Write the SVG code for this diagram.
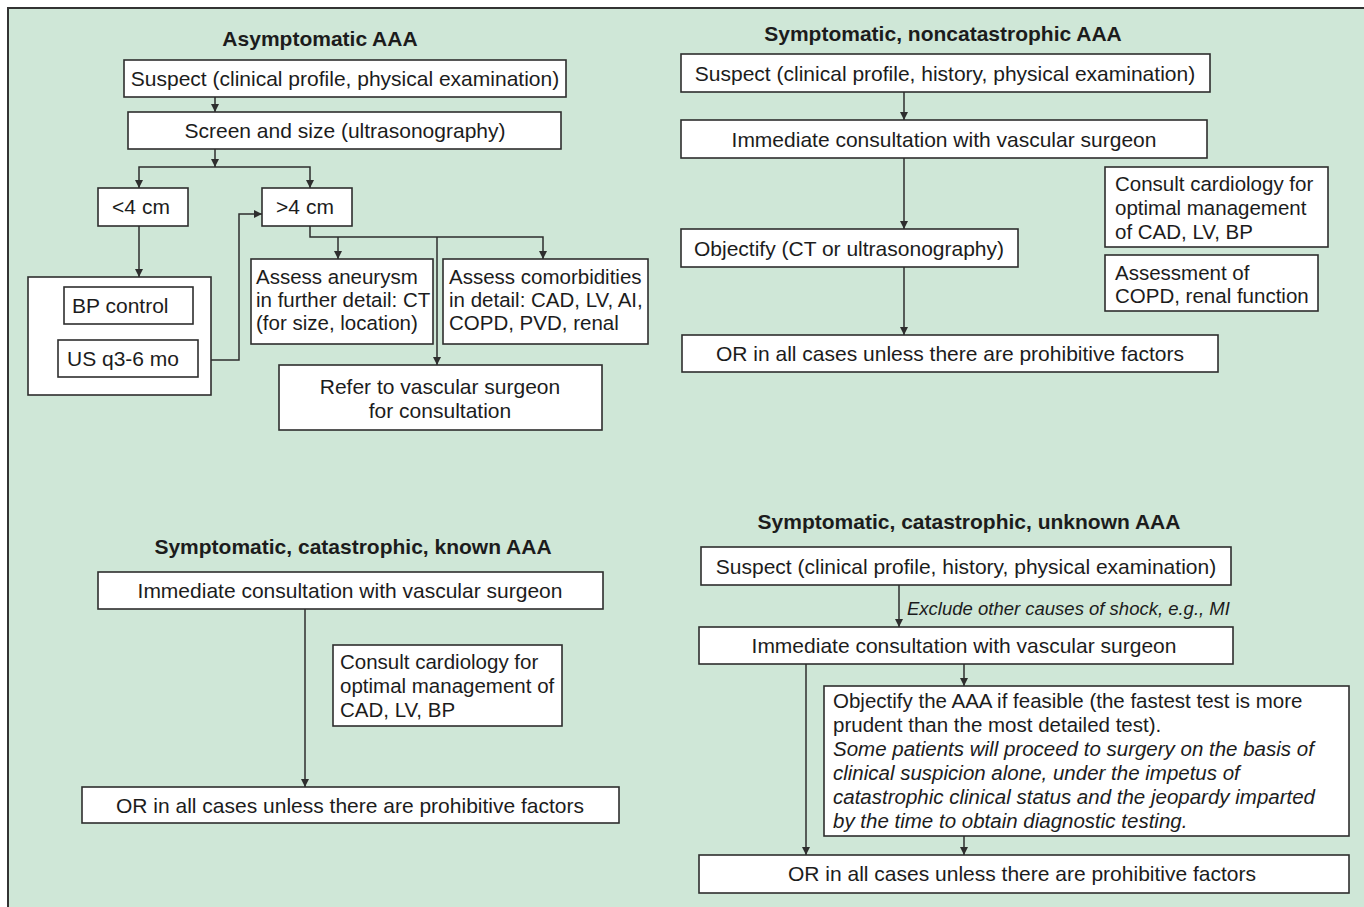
<svg xmlns="http://www.w3.org/2000/svg" width="1364" height="907" viewBox="0 0 1364 907">
  <defs>
    <marker id="ah" markerUnits="userSpaceOnUse" markerWidth="8" markerHeight="8" refX="8" refY="4" orient="auto">
      <path d="M0,0 L8,4 L0,8 Z" fill="#2e2e2e"/>
    </marker>
    <style>
      .box { fill: #ffffff; stroke: #2e2e2e; stroke-width: 1.6; }
      .t { font-family: "Liberation Sans", Arial, sans-serif; font-size: 21px; fill: #1c1c1c; }
      .c { text-anchor: middle; }
      .m { font-size: 20.5px; }
      .h { font-weight: bold; }
      .i { font-style: italic; }
      .conn path { fill: none; stroke: #2e2e2e; stroke-width: 1.5; }
      .conn .a { marker-end: url(#ah); }
    </style>
  </defs>

  <!-- page background and frame -->
  <rect x="0" y="0" width="1364" height="907" fill="#ffffff"/>
  <rect x="8" y="8" width="1356" height="899" fill="#cfe7d7"/>
  <path d="M8,907 V8 H1364" fill="none" stroke="#333333" stroke-width="2"/>

  <!-- section titles -->
  <g id="titles">
    <text class="t h c" x="320" y="46">Asymptomatic AAA</text>
    <text class="t h c" x="943" y="41">Symptomatic, noncatastrophic AAA</text>
    <text class="t h c" x="353" y="554">Symptomatic, catastrophic, known AAA</text>
    <text class="t h c" x="969" y="529">Symptomatic, catastrophic, unknown AAA</text>
  </g>

  <!-- connectors -->
  <g id="connectors" class="conn">
    <!-- asymptomatic -->
    <path class="a" d="M215,97 V112"/>
    <path class="a" d="M215,149 V167"/>
    <path class="a" d="M215,167 H139 V188"/>
    <path class="a" d="M215,167 H310 V188"/>
    <path class="a" d="M139,226 V277"/>
    <path class="a" d="M198,360 H239 V214 H262"/>
    <path class="a" d="M310,226 V237 H543 V259"/>
    <path class="a" d="M338,237 V259"/>
    <path class="a" d="M437,237 V365"/>
    <!-- symptomatic, noncatastrophic -->
    <path class="a" d="M904,92 V120"/>
    <path class="a" d="M904,158 V229"/>
    <path class="a" d="M904,267 V335"/>
    <!-- symptomatic, catastrophic, known -->
    <path class="a" d="M305,609 V787"/>
    <!-- symptomatic, catastrophic, unknown -->
    <path class="a" d="M899,585 V627"/>
    <path class="a" d="M806,664 V855"/>
    <path class="a" d="M964,664 V686"/>
    <path class="a" d="M964,836 V855"/>
  </g>
  <text class="t i" style="font-size:18.5px" x="907" y="615">Exclude other causes of shock, e.g., MI</text>

  <!-- asymptomatic AAA -->
  <g id="a-suspect">
    <rect class="box" x="124" y="60" width="442" height="37"/>
    <text class="t c" x="345" y="86">Suspect (clinical profile, physical examination)</text>
  </g>
  <g id="a-screen">
    <rect class="box" x="128" y="112" width="433" height="37"/>
    <text class="t c" x="345" y="138">Screen and size (ultrasonography)</text>
  </g>
  <g id="a-small">
    <rect class="box" x="98" y="188" width="90" height="38"/>
    <text class="t c" x="141" y="214">&lt;4 cm</text>
  </g>
  <g id="a-large">
    <rect class="box" x="262" y="188" width="90" height="38"/>
    <text class="t c" x="305" y="214">&gt;4 cm</text>
  </g>
  <g id="a-followup">
    <rect class="box" x="28" y="277" width="183" height="118"/>
  </g>
  <g id="a-bp">
    <rect class="box" x="64" y="287" width="129" height="37"/>
    <text class="t" x="72" y="313">BP control</text>
  </g>
  <g id="a-us">
    <rect class="box" x="58" y="340" width="140" height="37"/>
    <text class="t" x="67" y="366">US q3-6 mo</text>
  </g>
  <g id="a-aneurysm">
    <rect class="box" x="251" y="259" width="182" height="85"/>
    <text class="t m" x="256" y="284">Assess aneurysm</text>
    <text class="t m" x="256" y="307">in further detail: CT</text>
    <text class="t m" x="256" y="330">(for size, location)</text>
  </g>
  <g id="a-comorbid">
    <rect class="box" x="443" y="259" width="205" height="85"/>
    <text class="t m" x="449" y="284">Assess comorbidities</text>
    <text class="t m" x="449" y="307">in detail: CAD, LV, AI,</text>
    <text class="t m" x="449" y="330">COPD, PVD, renal</text>
  </g>
  <g id="a-refer">
    <rect class="box" x="279" y="365" width="323" height="65"/>
    <text class="t c" x="440" y="394">Refer to vascular surgeon</text>
    <text class="t c" x="440" y="418">for consultation</text>
  </g>

  <!-- symptomatic, noncatastrophic AAA -->
  <g id="n-suspect">
    <rect class="box" x="681" y="54" width="529" height="38"/>
    <text class="t c" x="945" y="81">Suspect (clinical profile, history, physical examination)</text>
  </g>
  <g id="n-consult">
    <rect class="box" x="681" y="120" width="526" height="38"/>
    <text class="t c" x="944" y="147">Immediate consultation with vascular surgeon</text>
  </g>
  <g id="n-objectify">
    <rect class="box" x="681" y="229" width="337" height="38"/>
    <text class="t c" x="849" y="256">Objectify (CT or ultrasonography)</text>
  </g>
  <g id="n-or">
    <rect class="box" x="682" y="335" width="536" height="37"/>
    <text class="t c" x="950" y="361">OR in all cases unless there are prohibitive factors</text>
  </g>
  <g id="n-cardio">
    <rect class="box" x="1105" y="167" width="223" height="80"/>
    <text class="t m" x="1115" y="191">Consult cardiology for</text>
    <text class="t m" x="1115" y="215">optimal management</text>
    <text class="t m" x="1115" y="239">of CAD, LV, BP</text>
  </g>
  <g id="n-copd">
    <rect class="box" x="1105" y="255" width="213" height="56"/>
    <text class="t m" x="1115" y="280">Assessment of</text>
    <text class="t m" x="1115" y="303">COPD, renal function</text>
  </g>

  <!-- symptomatic, catastrophic, known AAA -->
  <g id="k-consult">
    <rect class="box" x="98" y="572" width="505" height="37"/>
    <text class="t c" x="350" y="598">Immediate consultation with vascular surgeon</text>
  </g>
  <g id="k-cardio">
    <rect class="box" x="333" y="645" width="229" height="81"/>
    <text class="t m" x="340" y="669">Consult cardiology for</text>
    <text class="t m" x="340" y="693">optimal management of</text>
    <text class="t m" x="340" y="717">CAD, LV, BP</text>
  </g>
  <g id="k-or">
    <rect class="box" x="82" y="787" width="537" height="36"/>
    <text class="t c" x="350" y="813">OR in all cases unless there are prohibitive factors</text>
  </g>

  <!-- symptomatic, catastrophic, unknown AAA -->
  <g id="u-suspect">
    <rect class="box" x="701" y="547" width="530" height="38"/>
    <text class="t c" x="966" y="574">Suspect (clinical profile, history, physical examination)</text>
  </g>
  <g id="u-consult">
    <rect class="box" x="699" y="627" width="534" height="37"/>
    <text class="t c" x="964" y="653">Immediate consultation with vascular surgeon</text>
  </g>
  <g id="u-objectify">
    <rect class="box" x="824" y="686" width="525" height="150"/>
    <text class="t m" x="833" y="708">Objectify the AAA if feasible (the fastest test is more</text>
    <text class="t m" x="833" y="732">prudent than the most detailed test).</text>
    <text class="t m i" x="833" y="756">Some patients will proceed to surgery on the basis of</text>
    <text class="t m i" x="833" y="780">clinical suspicion alone, under the impetus of</text>
    <text class="t m i" x="833" y="804">catastrophic clinical status and the jeopardy imparted</text>
    <text class="t m i" x="833" y="828">by the time to obtain diagnostic testing.</text>
  </g>
  <g id="u-or">
    <rect class="box" x="699" y="855" width="650" height="38"/>
    <text class="t c" x="1022" y="881">OR in all cases unless there are prohibitive factors</text>
  </g>
</svg>
